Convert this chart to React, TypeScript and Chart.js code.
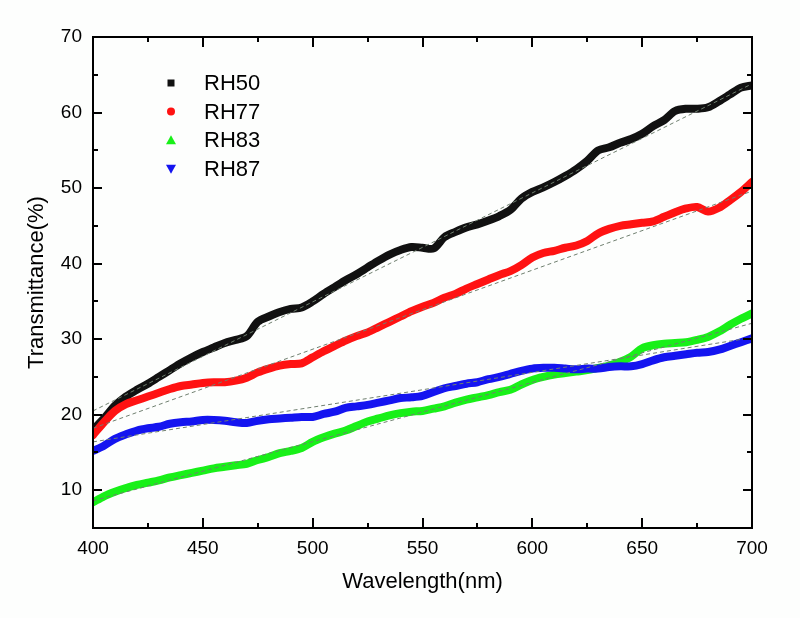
import React, { useEffect, useRef } from 'react';
import { Chart, registerables } from 'chart.js';

Chart.register(...registerables);

const wavelengths = [
  400, 405, 410, 415, 420, 425, 430, 435, 440, 445, 450, 455, 460, 465, 470, 475,
  480, 485, 490, 495, 500, 505, 510, 515, 520, 525, 530, 535, 540, 545, 550, 555,
  560, 565, 570, 575, 580, 585, 590, 595, 600, 605, 610, 615, 620, 625, 630, 635,
  640, 645, 650, 655, 660, 665, 670, 675, 680, 685, 690, 695, 700,
];

const rh50 = [
  18.0, 19.5, 21.2, 22.4, 23.3, 24.1, 25.0, 25.9, 26.8, 27.6, 28.3, 28.9, 29.5, 29.9, 30.4, 32.3,
  33.0, 33.6, 34.0, 34.2, 35.0, 36.0, 36.9, 37.8, 38.6, 39.5, 40.4, 41.2, 41.8, 42.2, 42.1, 42.0,
  43.5, 44.2, 44.8, 45.2, 45.7, 46.3, 47.1, 48.6, 49.5, 50.1, 50.8, 51.6, 52.5, 53.6, 55.0, 55.4,
  56.0, 56.5, 57.2, 58.2, 59.0, 60.2, 60.5, 60.5, 60.7, 61.5, 62.4, 63.3, 63.6,
];

const rh77 = [
  17.3, 19.0, 20.5, 21.4, 21.9, 22.4, 22.9, 23.4, 23.8, 24.0, 24.2, 24.3, 24.3, 24.5, 24.9, 25.6,
  26.1, 26.5, 26.7, 26.8, 27.6, 28.4, 29.1, 29.8, 30.4, 30.9, 31.6, 32.3, 33.0, 33.7, 34.3, 34.8,
  35.5, 36.0, 36.7, 37.3, 37.9, 38.5, 39.0, 39.8, 40.8, 41.4, 41.7, 42.1, 42.4, 43.0, 44.0, 44.6,
  45.0, 45.2, 45.4, 45.6, 46.2, 46.8, 47.3, 47.5, 46.9, 47.4, 48.4, 49.5, 50.8,
];

const rh83 = [
  8.4, 9.2, 9.8, 10.3, 10.7, 11.0, 11.3, 11.7, 12.0, 12.3, 12.6, 12.9, 13.1, 13.3, 13.5, 14.0,
  14.4, 14.9, 15.2, 15.6, 16.4, 17.0, 17.5, 17.9, 18.5, 19.1, 19.5, 19.9, 20.2, 20.4, 20.5, 20.8,
  21.1, 21.6, 22.0, 22.3, 22.6, 23.0, 23.3, 24.0, 24.6, 25.0, 25.3, 25.5, 25.7, 25.9, 26.2, 26.5,
  27.0, 27.7, 28.8, 29.2, 29.4, 29.5, 29.6, 29.9, 30.3, 31.0, 31.9, 32.7, 33.4,
];

const rh87 = [
  15.2, 15.9, 16.8, 17.4, 17.9, 18.2, 18.4, 18.8, 19.0, 19.1, 19.3, 19.3, 19.2, 19.0, 18.9, 19.2,
  19.4, 19.5, 19.6, 19.7, 19.7, 20.1, 20.4, 20.9, 21.1, 21.3, 21.6, 21.9, 22.2, 22.3, 22.5, 23.0,
  23.5, 23.8, 24.1, 24.3, 24.7, 25.0, 25.4, 25.8, 26.1, 26.2, 26.2, 26.1, 26.0, 26.1, 26.1, 26.3,
  26.4, 26.4, 26.7, 27.2, 27.6, 27.8, 28.0, 28.2, 28.3, 28.6, 29.1, 29.6, 30.1,
];

// Linear fit lines (dashed) at both ends
const fitEnds = [400, 700];
const fit50 = [20.5, 63.8];
const fit77 = [18.2, 49.6];
const fit83 = [8.6, 32.1];
const fit87 = [16.4, 30.2];

const seriesNames = ['RH50', 'RH77', 'RH83', 'RH87'];
const seriesColors = ['#111111', '#ff1212', '#18f018', '#1414f0'];
const markerShapes = ['square', 'circle', 'triangle', 'triangleDown'];

const xTicks = [400, 450, 500, 550, 600, 650, 700];
const xMinorTicks = [425, 475, 525, 575, 625, 675];
const yTicks = [10, 20, 30, 40, 50, 60, 70];
const yMinorTicks = [15, 25, 35, 45, 55, 65];

const FONT = '"Liberation Sans", Arial, Helvetica, sans-serif';

const framePlugin = {
  id: 'frameTicks',
  afterDraw(chart: any) {
    const { ctx, chartArea } = chart;
    const { left, right, top, bottom } = chartArea;
    const xs = chart.scales.x;
    const ys = chart.scales.y;
    ctx.save();
    ctx.strokeStyle = '#000';
    ctx.lineWidth = 2;
    ctx.strokeRect(left, top, right - left, bottom - top);
    ctx.beginPath();
    const addX = (v: number, len: number) => {
      const px = Math.round(xs.getPixelForValue(v));
      ctx.moveTo(px, bottom);
      ctx.lineTo(px, bottom - len);
      ctx.moveTo(px, top);
      ctx.lineTo(px, top + len);
    };
    const addY = (v: number, len: number) => {
      const py = Math.round(ys.getPixelForValue(v));
      ctx.moveTo(left, py);
      ctx.lineTo(left + len, py);
      ctx.moveTo(right, py);
      ctx.lineTo(right - len, py);
    };
    xTicks.forEach((v) => addX(v, 10));
    xMinorTicks.forEach((v) => addX(v, 5));
    yTicks.forEach((v) => addY(v, 9));
    yMinorTicks.forEach((v) => addY(v, 5));
    ctx.stroke();
    ctx.restore();
  },
};

const legendPlugin = {
  id: 'insideLegend',
  afterDraw(chart: any) {
    const { ctx, chartArea } = chart;
    const mx = chartArea.left + 78;
    const tx = chartArea.left + 111;
    const y0 = chartArea.top + 46;
    const dy = 28.6;
    ctx.save();
    ctx.font = `22px ${FONT}`;
    ctx.textBaseline = 'middle';
    ctx.textAlign = 'left';
    seriesNames.forEach((name, i) => {
      const y = y0 + i * dy;
      ctx.fillStyle = seriesColors[i];
      const shape = markerShapes[i];
      ctx.beginPath();
      if (shape === 'square') {
        ctx.rect(mx - 3.5, y - 3.5, 7, 7);
      } else if (shape === 'circle') {
        ctx.arc(mx, y, 4, 0, Math.PI * 2);
      } else if (shape === 'triangle') {
        ctx.moveTo(mx, y - 5);
        ctx.lineTo(mx + 5, y + 4);
        ctx.lineTo(mx - 5, y + 4);
        ctx.closePath();
      } else {
        ctx.moveTo(mx, y + 5);
        ctx.lineTo(mx + 5, y - 4);
        ctx.lineTo(mx - 5, y - 4);
        ctx.closePath();
      }
      ctx.fill();
      ctx.fillStyle = '#000';
      ctx.fillText(name, tx, y + 1);
    });
    ctx.restore();
  },
};

function toPoints(xs: number[], ys: number[]) {
  return xs.map((x, i) => ({ x, y: ys[i] }));
}

export default function App() {
  const canvasRef = useRef<HTMLCanvasElement | null>(null);

  useEffect(() => {
    document.body.style.margin = '0';
    const canvas = canvasRef.current;
    if (!canvas) return;
    const seriesValues = [rh50, rh77, rh83, rh87];
    const fits = [fit50, fit77, fit83, fit87];
    const orders = [4, 3, 2, 1];
    const dataDatasets = seriesValues.map((vals, i) => ({
      label: seriesNames[i],
      data: toPoints(wavelengths, vals),
      borderColor: seriesColors[i],
      backgroundColor: seriesColors[i],
      borderWidth: 8,
      pointRadius: 0,
      tension: 0.3,
      order: orders[i],
      borderCapStyle: 'round' as const,
      borderJoinStyle: 'round' as const,
    }));
    const fitDatasets = fits.map((vals, i) => ({
      label: seriesNames[i] + ' fit',
      data: toPoints(fitEnds, vals),
      borderColor: '#6f7f6f',
      borderWidth: 1,
      borderDash: [4, 3],
      pointRadius: 0,
      order: 0,
    }));

    const chart = new Chart(canvas, {
      type: 'line',
      data: { datasets: [...dataDatasets, ...fitDatasets] as any },
      options: {
        responsive: false,
        animation: false,
        devicePixelRatio: 1,
        layout: { padding: { left: 0, top: 37, right: 48, bottom: 0 } },
        plugins: {
          legend: { display: false },
          tooltip: { enabled: false },
        },
        scales: {
          x: {
            type: 'linear',
            min: 400,
            max: 700,
            afterBuildTicks: (scale: any) => {
              scale.ticks = xTicks.map((v) => ({ value: v }));
            },
            afterFit: (scale: any) => {
              scale.height = 90;
            },
            grid: { display: false, drawTicks: false },
            border: { display: false },
            ticks: {
              padding: 9,
              color: '#000',
              maxRotation: 0,
              font: { family: FONT, size: 19, lineHeight: 1.2 },
            },
            title: {
              display: true,
              text: 'Wavelength(nm)',
              color: '#000',
              font: { family: FONT, size: 22, lineHeight: 1.2 },
              padding: { top: 0, bottom: 23 },
            },
          },
          y: {
            type: 'linear',
            min: 5,
            max: 70,
            afterBuildTicks: (scale: any) => {
              scale.ticks = yTicks.map((v) => ({ value: v }));
            },
            afterFit: (scale: any) => {
              scale.width = 93;
            },
            grid: { display: false, drawTicks: false },
            border: { display: false },
            ticks: {
              padding: 11,
              color: '#000',
              font: { family: FONT, size: 19, lineHeight: 1.2 },
            },
            title: {
              display: true,
              text: 'Transmittance(%)',
              color: '#000',
              font: { family: FONT, size: 22, lineHeight: 1.2 },
              padding: { top: 24, bottom: 0 },
            },
          },
        },
      },
      plugins: [framePlugin, legendPlugin],
    });

    return () => {
      chart.destroy();
    };
  }, []);

  return (
    <div style={{ position: 'absolute', left: 0, top: 0, width: 800, height: 618, background: '#fdfefd' }}>
      <canvas ref={canvasRef} width={800} height={618} style={{ display: 'block', width: 800, height: 618 }} />
    </div>
  );
}
